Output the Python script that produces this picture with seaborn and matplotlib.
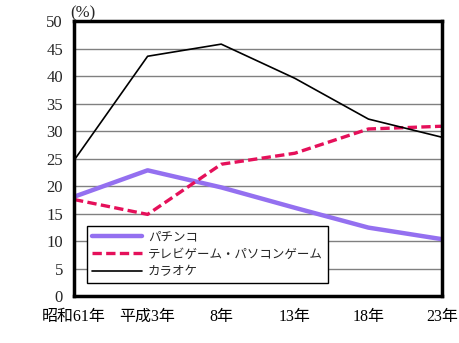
import matplotlib
matplotlib.use("Agg")
import matplotlib.pyplot as plt
import seaborn as sns
import pandas as pd

categories = ["昭和61年", "平成3年", "8年", "13年", "18年", "23年"]
pachinko = [18.1, 22.9, 19.8, 16.1, 12.5, 10.4]
game = [17.6, 14.9, 24.0, 26.0, 30.4, 30.9]
karaoke = [24.7, 43.6, 45.8, 39.6, 32.2, 28.9]
series_names = ["パチンコ", "テレビゲーム・パソコンゲーム", "カラオケ"]
yticks = list(range(0, 55, 5))

sns.set_style("white")
FAM = ["Liberation Serif", "Noto Sans CJK JP"]
plt.rcParams["font.family"] = FAM

fig = plt.figure(figsize=(4.6, 3.43), dpi=100)
ax = fig.add_axes([0.1609, 0.1356, 0.8, 0.8032])

df = pd.DataFrame({"x": list(range(len(categories))),
                   "p": pachinko, "g": game, "k": karaoke})

sns.lineplot(data=df, x="x", y="p", ax=ax, color="#9470F0", linewidth=3.2,
             label=series_names[0])
sns.lineplot(data=df, x="x", y="g", ax=ax, color="#E5105A", linewidth=2.4,
             label=series_names[1], dashes=False)
ax.lines[-1].set_dashes([2.8, 1.3])
sns.lineplot(data=df, x="x", y="k", ax=ax, color="black", linewidth=1.2,
             label=series_names[2])

ax.set_xlim(0, len(categories) - 1)
ax.set_ylim(0, 50)
ax.set_yticks(yticks)
ax.set_yticklabels([str(v) for v in yticks], fontsize=12)
ax.set_xticks(range(len(categories)))
ax.set_xticklabels(categories, fontsize=11.5)
ax.set_xlabel("")
ax.set_ylabel("")
ax.yaxis.grid(True, color="#808080", linewidth=1.0)
ax.set_axisbelow(True)
ax.tick_params(axis="x", direction="in", length=5, width=1.5, pad=9, colors="black")
ax.tick_params(axis="y", length=0, pad=8)
for s in ax.spines.values():
    s.set_visible(True)
    s.set_color("black")
    s.set_linewidth(2.5)

ax.text(-0.01, 1.0, "(%)", transform=ax.transAxes, fontsize=12,
        ha="left", va="bottom")

leg = ax.legend(loc="lower left", bbox_to_anchor=(0.017, 0.025), fancybox=False,
                edgecolor="black", framealpha=1, fontsize=9, handlelength=4.0,
                borderpad=0.4, labelspacing=0.45, handletextpad=0.5)
leg.get_frame().set_linewidth(1.0)

fig.savefig("out.png", dpi=100)
